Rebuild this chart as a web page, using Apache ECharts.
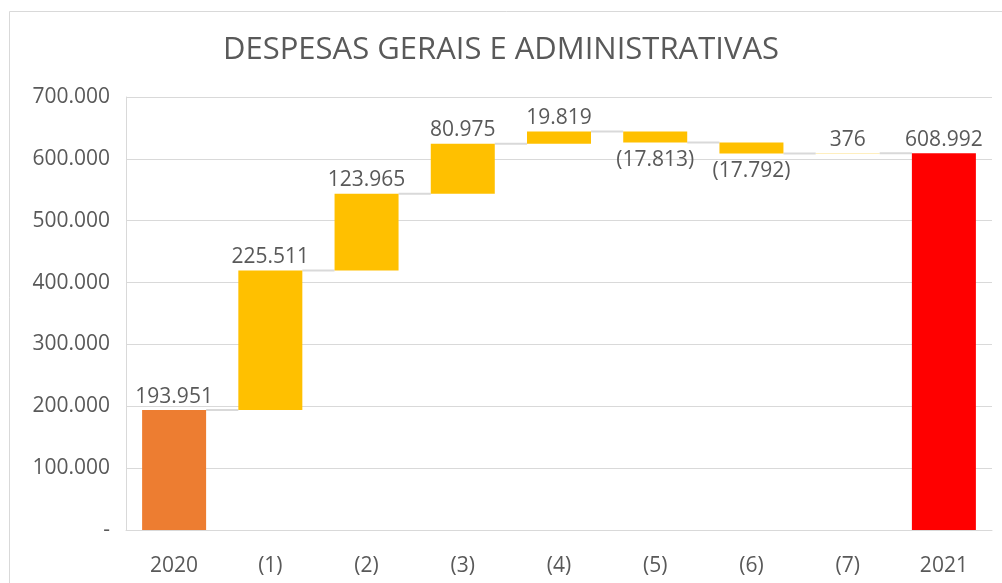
<!DOCTYPE html>
<html><head><meta charset="utf-8">
<script src="https://cdn.jsdelivr.net/npm/echarts@6/dist/echarts.min.js"></script>
<style>html,body{margin:0;padding:0;background:#fff}#c{width:1002px;height:583px}</style>
</head><body><div id="c"></div>
<script>
var categories = ['2020','(1)','(2)','(3)','(4)','(5)','(6)','(7)','2021'];
var values = [193951, 225511, 123965, 80975, 19819, -17813, -17792, 376, 608992];
var totalFlags = [true, false, false, false, false, false, false, false, true];
var colors = ['#ED7D31','#FFC000','#FFC000','#FFC000','#FFC000','#FFC000','#FFC000','#FFC000','#FF0000'];
var yTicks = [0, 100000, 200000, 300000, 400000, 500000, 600000, 700000];

function fmt(v){
  var s = String(Math.abs(Math.round(v))).replace(/\B(?=(\d{3})+(?!\d))/g, '.');
  return v < 0 ? '(' + s + ')' : s;
}

var base = [], vis = [], ends = [];
var run = 0;
values.forEach(function(v, i){
  if (totalFlags[i]) { base.push(0); vis.push(v); run = v; }
  else if (v >= 0) { base.push(run); vis.push(v); run += v; }
  else { base.push(run + v); vis.push(-v); run += v; }
  ends.push(run);
});

var FONT = 'Open Sans';
var TXT = '#595959';

var chart = echarts.init(document.getElementById('c'), null, {renderer:'canvas'});
chart.setOption({
  animation:false,
  textStyle:{fontFamily:FONT},
  title:{text:'DESPESAS GERAIS E ADMINISTRATIVAS', left:'center', top:25,
    textStyle:{fontFamily:FONT, fontWeight:'normal', fontSize:31, color:TXT, lineHeight:40}},
  graphic:[{type:'rect', shape:{x:9.5, y:11.5, width:1200, height:800},
    style:{fill:null, stroke:'#d9d9d9', lineWidth:1}, silent:true}],
  grid:{left:126, right:10, top:97, bottom:53},
  xAxis:{type:'category', data:categories,
    axisLine:{lineStyle:{color:'#d9d9d9', width:1}}, axisTick:{show:false},
    axisLabel:{color:TXT, fontSize:21, margin:26, fontFamily:FONT}},
  yAxis:{type:'value', min:0, max:700000, interval:100000,
    axisLine:{show:true, lineStyle:{color:'#d9d9d9'}}, axisTick:{show:false},
    splitLine:{lineStyle:{color:'#d9d9d9', width:1}},
    axisLabel:{color:TXT, fontSize:21, margin:16, fontFamily:FONT,
      formatter:function(v){ return v === 0 ? '-' : fmt(v); }}},
  series:[
    {type:'bar', stack:'w', data:base, barWidth:64, itemStyle:{color:'transparent'}, silent:true},
    {type:'bar', stack:'w', barWidth:64,
      data:vis.map(function(v,i){
        return {value:v, itemStyle:{color:colors[i]},
          label:{show:true, position: values[i] < 0 ? 'bottom' : 'top',
            formatter: fmt(values[i]), color:TXT, fontSize:21, fontFamily:FONT,
            distance: values[i] < 0 ? 7 : 3}};
      })},
    {type:'custom', data: ends.slice(0, -1).map(function(e,i){ return [i, e]; }),
      renderItem:function(params, api){
        var i = api.value(0);
        var p1 = api.coord([i, api.value(1)]);
        var p2 = api.coord([i+1, api.value(1)]);
        var half = 32;
        return {type:'line', shape:{x1:p1[0]+half, y1:p1[1], x2:p2[0]-half, y2:p2[1]},
          style:{stroke:'#d9d9d9', lineWidth:2}};
      }, z:1, silent:true}
  ]
});
</script></body></html>
